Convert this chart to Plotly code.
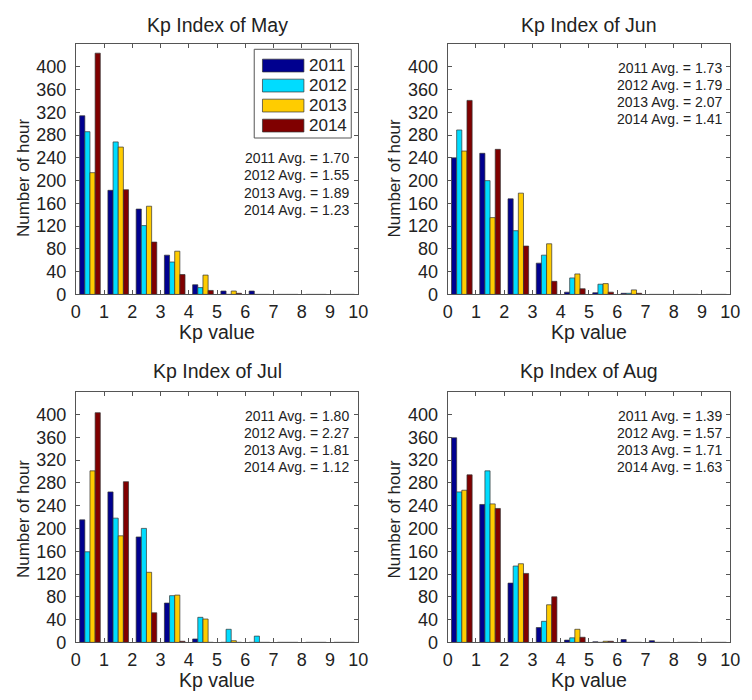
import plotly.graph_objects as go

# ---------------- data ----------------
years = ["2011", "2012", "2013", "2014"]
kp_bins = [0.5, 1.5, 2.5, 3.5, 4.5, 5.5, 6.5, 7.5, 8.5, 9.5]
x_ticks = [0, 1, 2, 3, 4, 5, 6, 7, 8, 9, 10]
y_ticks = [0, 40, 80, 120, 160, 200, 240, 280, 320, 360, 400]

may_2011 = [314, 183, 150, 69, 17, 6, 6, 0, 0, 0]
may_2012 = [286, 268, 121, 57, 12, 0, 0, 0, 0, 0]
may_2013 = [214, 259, 155, 76, 34, 6, 0, 0, 0, 0]
may_2014 = [424, 184, 92, 35, 7, 2, 0, 0, 0, 0]

jun_2011 = [240, 248, 168, 55, 4, 3, 2, 0, 0, 0]
jun_2012 = [289, 200, 112, 69, 29, 18, 2, 0, 0, 0]
jun_2013 = [252, 135, 178, 89, 36, 19, 8, 0, 0, 0]
jun_2014 = [341, 255, 85, 23, 10, 4, 2, 0, 0, 0]

jul_2011 = [215, 264, 185, 69, 6, 0, 0, 0, 0, 0]
jul_2012 = [159, 218, 200, 82, 44, 23, 11, 0, 0, 0]
jul_2013 = [301, 187, 123, 83, 41, 3, 0, 0, 0, 0]
jul_2014 = [403, 282, 52, 2, 0, 0, 0, 0, 0, 0]

aug_2011 = [359, 242, 104, 26, 4, 1, 5, 3, 0, 0]
aug_2012 = [264, 301, 134, 37, 8, 0, 0, 0, 0, 0]
aug_2013 = [267, 243, 138, 66, 23, 2, 0, 0, 0, 0]
aug_2014 = [294, 235, 121, 80, 9, 2, 0, 0, 0, 0]

avg_may = [1.70, 1.55, 1.89, 1.23]
avg_jun = [1.73, 1.79, 2.07, 1.41]
avg_jul = [1.80, 2.27, 1.81, 1.12]
avg_aug = [1.39, 1.57, 1.71, 1.63]

months = ["May", "Jun", "Jul", "Aug"]
month_series = [
    [may_2011, may_2012, may_2013, may_2014],
    [jun_2011, jun_2012, jun_2013, jun_2014],
    [jul_2011, jul_2012, jul_2013, jul_2014],
    [aug_2011, aug_2012, aug_2013, aug_2014],
]
month_avgs = [avg_may, avg_jun, avg_jul, avg_aug]

# ---------------- styling ----------------
colors = ["#00008F", "#00DCFF", "#FFCC00", "#800000"]
W, H = 752, 700
FONT = "Liberation Sans, Arial, Helvetica, sans-serif"
TXT = "#222222"


def px(x):
    return x / W


def py(y):
    return 1 - y / H


# pixel boxes of each panel: (left, right, top, bottom)
boxes = [
    (72.3, 360.5, 44.7, 298.7),
    (451.7, 740.0, 44.7, 298.7),
    (72.3, 360.5, 397.3, 651.7),
    (451.7, 740.0, 397.3, 651.7),
]
avg_right = [353, 734, 353, 734]
avg_top = [160.7, 69.0, 421.7, 421.7]
avg_step = 17.3
title_y = [25, 25, 376, 376]
ylab_x = [19, 397, 19, 397]
ylab_y = [181, 181, 527, 527]
xlab_y = [337, 337, 690, 690]

fig = go.Figure()
annotations = []
shapes = []
layout_axes = {}

for i, (mon, series, avgs) in enumerate(zip(months, month_series, month_avgs)):
    n = "" if i == 0 else str(i + 1)
    xa, ya = "x" + n, "y" + n
    for yr, vals, c in zip(years, series, colors):
        fig.add_trace(go.Bar(
            x=kp_bins, y=vals, name=yr, marker_color=c,
            marker_line=dict(color="#333333", width=0.7),
            xaxis=xa, yaxis=ya, showlegend=False,
            offsetgroup=yr,
        ))
    l, r, t, b = boxes[i]
    axis_common = dict(
        showline=True, linecolor="#555555", linewidth=1, mirror="ticks",
        ticks="inside", ticklen=4, tickcolor="#555555", tickwidth=1,
        showgrid=False, zeroline=False,
        tickfont=dict(family=FONT, size=18, color=TXT),
    )
    layout_axes["xaxis" + n] = dict(
        domain=[px(l), px(r)], anchor=ya, range=[0, 10],
        tickmode="array", tickvals=x_ticks, ticktext=[str(v) for v in x_ticks],
        ticklabelstandoff=1, **axis_common)
    layout_axes["yaxis" + n] = dict(
        domain=[py(b), py(t)], anchor=xa, range=[0, 440],
        tickmode="array", tickvals=y_ticks, ticktext=[str(v) for v in y_ticks],
        ticklabelstandoff=5, **axis_common)

    cx = (l + r) / 2
    annotations.append(dict(
        text=f"Kp Index of {mon}", x=px(cx), y=py(title_y[i]), xref="paper", yref="paper",
        showarrow=False, xanchor="center", yanchor="middle",
        font=dict(family=FONT, size=19.5, color=TXT)))
    annotations.append(dict(
        text="Kp value", x=px(cx), y=py(xlab_y[i]), xref="paper", yref="paper",
        showarrow=False, xanchor="center", yanchor="middle",
        font=dict(family=FONT, size=19.5, color=TXT)))
    annotations.append(dict(
        text="Number of hour", x=px(ylab_x[i]), y=py(ylab_y[i]), xref="paper", yref="paper",
        showarrow=False, xanchor="center", yanchor="middle", textangle=-90,
        font=dict(family=FONT, size=17, color=TXT)))
    for k, (yr, v) in enumerate(zip(years, avgs)):
        annotations.append(dict(
            text=f"{yr} Avg. = {v:.2f}", x=px(avg_right[i]), y=py(avg_top[i] + k * avg_step),
            xref="paper", yref="paper", showarrow=False, xanchor="right", yanchor="middle",
            font=dict(family=FONT, size=14, color=TXT)))

# legend box in the May panel (drawn by hand to mimic the MATLAB legend)
shapes.append(dict(type="rect", xref="paper", yref="paper",
                   x0=px(254.3), x1=px(353.3), y0=py(140), y1=py(50),
                   line=dict(color="#555555", width=1), fillcolor="white", layer="above"))
for k, (yr, c) in enumerate(zip(years, colors)):
    yc = 66.5 + k * 20.3
    shapes.append(dict(type="rect", xref="paper", yref="paper",
                       x0=px(262.7), x1=px(305), y0=py(yc + 6.5), y1=py(yc - 6.5),
                       line=dict(color="#333333", width=0.7), fillcolor=c, layer="above"))
    annotations.append(dict(
        text=yr, x=px(308.5), y=py(yc), xref="paper", yref="paper",
        showarrow=False, xanchor="left", yanchor="middle",
        font=dict(family=FONT, size=17, color=TXT)))

fig.update_layout(
    width=W, height=H,
    margin=dict(l=0, r=0, t=0, b=0),
    paper_bgcolor="white", plot_bgcolor="white",
    barmode="group", bargap=0.27, bargroupgap=0,
    annotations=annotations, shapes=shapes,
    showlegend=False,
    **layout_axes,
)

fig.write_html("out.html")
